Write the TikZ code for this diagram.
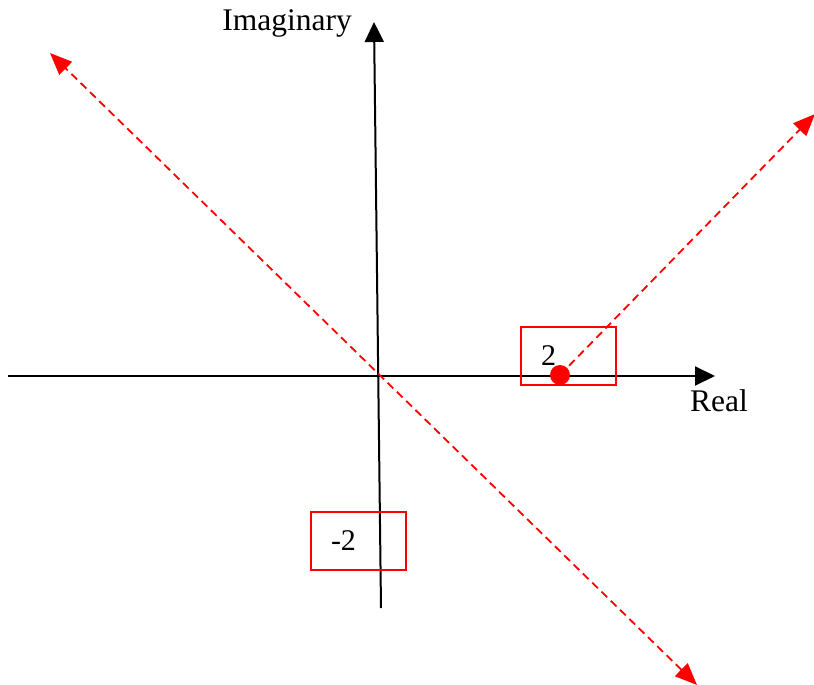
\documentclass[tikz,border=0pt]{standalone}
\usepackage{fontspec}
\setmainfont{Liberation Serif}
\usetikzlibrary{arrows.meta}
\begin{document}
\begin{tikzpicture}[x=1pt,y=-1pt,
 axis/.style={line width=2pt,-{Triangle[length=20pt,width=19pt]}},
 ray/.style={red,line width=1.8pt,dash pattern=on 8pt off 5pt,>={Triangle[length=22pt,width=18pt]}},
 valbox/.style={draw=red,line width=1.5pt,minimum width=95pt,minimum height=58pt,text width=55pt,inner xsep=20pt,align=left,font=\fontsize{30}{31}\selectfont},
 lbl/.style={font=\fontsize{31.5}{33}\selectfont,inner sep=0pt},
 dot/.style={circle,fill=red,inner sep=0pt,minimum size=20pt}]
\useasboundingbox (0,0) rectangle (814,685);
\coordinate (ybot) at (381,608);
\coordinate (ytop) at (374,22);
\coordinate (xl) at (8,376);
\coordinate (xr) at (715,376);
\coordinate (d1) at (50,53);
\coordinate (d2) at (697,685);
\coordinate (rayend) at (815,114);
\draw[axis] (xl) -- (xr);
\draw[axis] (ybot) -- (ytop);
\draw[ray,<->] (d2) -- (d1);
\node[valbox] (b2) at (568.5,356) {2};
\node[valbox] (bm2) at (358.5,541) {-2};
\node[dot] (pole) at (560,375) {};
\draw[ray,->] (pole.center) -- (rayend);
\node[lbl,anchor=base east] (im) at (352,31) {Imaginary};
\node[lbl,anchor=base west] (re) at (690,411) {Real};
\end{tikzpicture}
\end{document}
